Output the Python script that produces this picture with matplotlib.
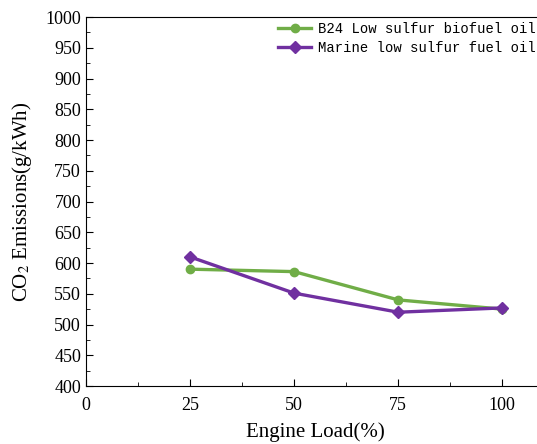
import matplotlib
matplotlib.use("Agg")
import matplotlib.pyplot as plt
from matplotlib.ticker import MultipleLocator

load = [25, 50, 75, 100]
b24 = [590, 586, 540, 525]
marine = [610, 551, 520, 527]

plt.rcParams['font.family'] = ['Liberation Serif', 'DejaVu Serif']
plt.rcParams['mathtext.fontset'] = 'stix'

fig = plt.figure(figsize=(5.37, 4.44), dpi=100)
ax = fig.add_axes([0.160, 0.1306, 0.853, 0.8311])

ax.plot(load, b24, color='#70AD47', lw=2.4, marker='o', ms=6,
        label='B24 Low sulfur biofuel oil')
ax.plot(load, marine, color='#7030A0', lw=2.4, marker='D', ms=6,
        label='Marine low sulfur fuel oil')

ax.set_xlim(0, 110)
ax.set_ylim(400, 1000)
ax.xaxis.set_major_locator(MultipleLocator(25))
ax.xaxis.set_minor_locator(MultipleLocator(12.5))
ax.yaxis.set_major_locator(MultipleLocator(50))
ax.yaxis.set_minor_locator(MultipleLocator(25))
ax.tick_params(which='both', direction='in', labelsize=13)
ax.tick_params(which='major', length=5)
ax.tick_params(which='minor', length=3)
ax.tick_params(axis='x', pad=8)
ax.spines['right'].set_visible(False)

ax.set_xlabel('Engine Load(%)', fontsize=15, labelpad=6)
ax.set_ylabel('CO$_2$ Emissions(g/kWh)', fontsize=15, labelpad=8)

ax.legend(loc='upper left', bbox_to_anchor=(278 / 537, 1 - 22 / 444),
          bbox_transform=fig.transFigure, frameon=False,
          prop={'family': 'Liberation Mono', 'size': 10},
          handlelength=2.4, handletextpad=0.5, labelspacing=0.35,
          borderaxespad=0, borderpad=0)

fig.savefig('out.png', dpi=100)
